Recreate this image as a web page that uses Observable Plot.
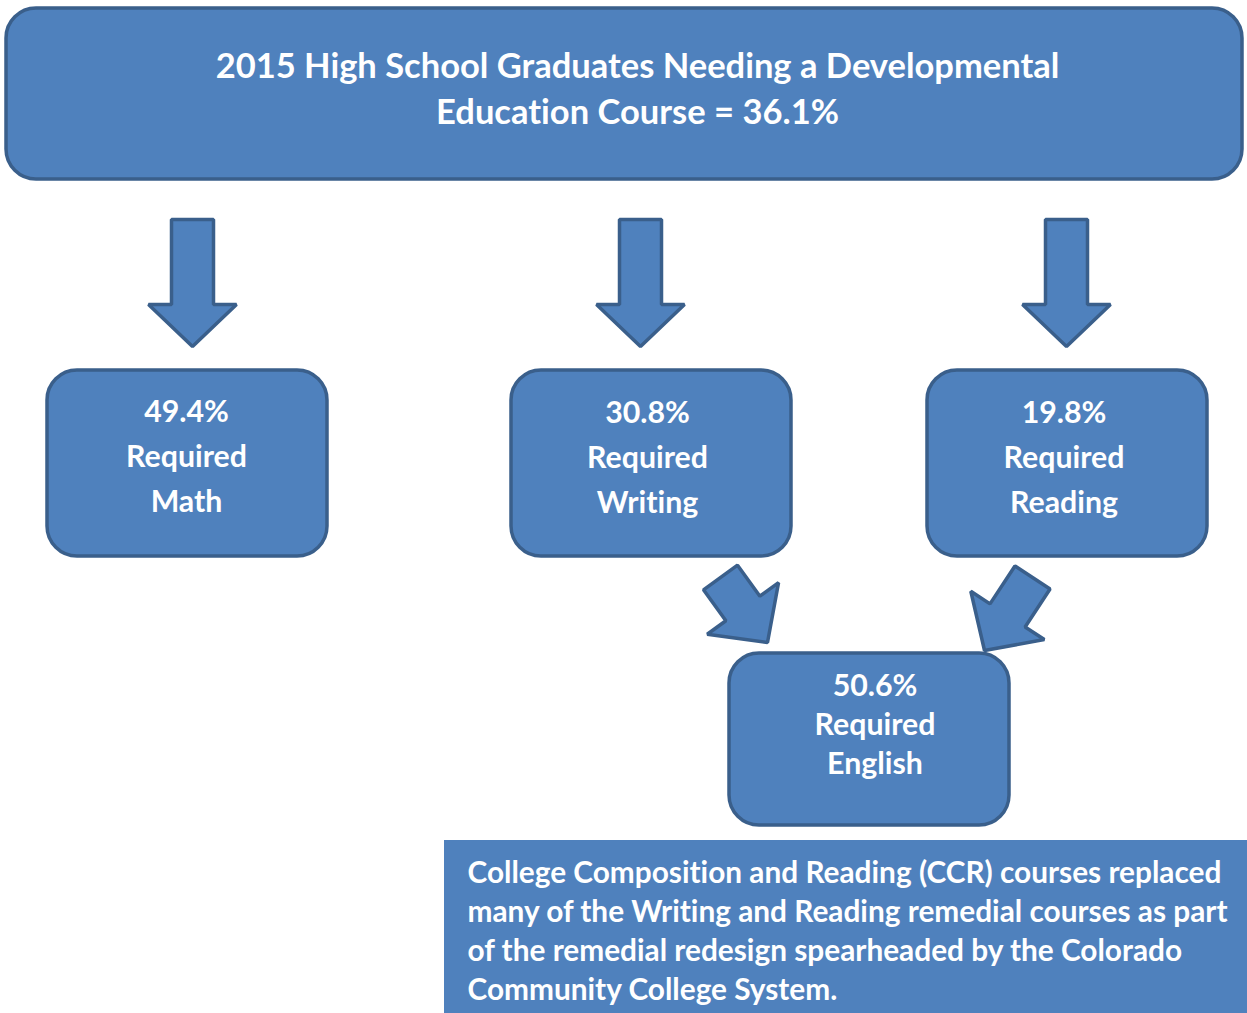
<!DOCTYPE html>
<html>
<head>
<meta charset="utf-8">
<script src="https://cdn.jsdelivr.net/npm/d3@7"></script>
<script src="https://cdn.jsdelivr.net/npm/@observablehq/plot@0.6"></script>
<style>
  html, body { margin: 0; padding: 0; background: #ffffff; }
  #chart svg { display: block; }
  #chart svg text { font-variant-ligatures: none; font-feature-settings: "liga" 0, "clig" 0; }
</style>
</head>
<body>
<div id="chart"></div>
<script>
// ---- content ----
const headline = ["2015 High School Graduates Needing a Developmental", "Education Course = 36.1%"];
const subjects = ["Math", "Writing", "Reading", "English"];
const shares = [49.4, 30.8, 19.8, 50.6];
const captionLines = [
  "College Composition and Reading (CCR) courses replaced",
  "many of the Writing and Reading remedial courses as part",
  "of the remedial redesign spearheaded by the Colorado",
  "Community College System."
];

// ---- layout (pixel canvas) ----
const W = 1247, H = 1013;
const FILL = "#4f81bd", EDGE = "#3a5f8b";
const FONT = "Lato, 'Open Sans', sans-serif";

const topBox = [{x1: 6, x2: 1242, y1: 8, y2: 179}];
const boxLayout = [
  {x1: 47, x2: 327, y1: 370, y2: 556, cx: 186, cy: 452},
  {x1: 511, x2: 791, y1: 370, y2: 556, cx: 647, cy: 453},
  {x1: 927, x2: 1207, y1: 370, y2: 556, cx: 1063.5, cy: 453},
  {x1: 729, x2: 1009, y1: 653, y2: 825, cx: 874.5, cy: 722}
];
const boxes = subjects.map((s, i) => ({
  ...boxLayout[i],
  label: `${shares[i].toFixed(1)}%\nRequired\n${s}`
}));
const captionBox = [{x1: 444, x2: 1247, y1: 840, y2: 1013}];

// arrows: tail point, tip point
const arrowLayout = [
  {id: "a1", tx: 192, ty: 219, hx: 192, hy: 346},
  {id: "a2", tx: 640, ty: 219, hx: 640, hy: 346},
  {id: "a3", tx: 1066, ty: 219, hx: 1066, hy: 346},
  {id: "a4", tx: 720, ty: 577, hx: 767, hy: 642},
  {id: "a5", tx: 1032, ty: 577, hx: 984, hy: 650}
];
const SHAFT = 42, HEAD = 88, HEADLEN = 42;
function arrowPolygon(a) {
  const dx = a.hx - a.tx, dy = a.hy - a.ty, L = Math.hypot(dx, dy);
  const ux = dx / L, uy = dy / L, px = -uy, py = ux;
  const bx = a.hx - ux * HEADLEN, by = a.hy - uy * HEADLEN;
  const s = SHAFT / 2, h = HEAD / 2;
  const pts = [
    [a.tx + px * s, a.ty + py * s],
    [bx + px * s, by + py * s],
    [bx + px * h, by + py * h],
    [a.hx, a.hy],
    [bx - px * h, by - py * h],
    [bx - px * s, by - py * s],
    [a.tx - px * s, a.ty - py * s]
  ];
  return pts.map(([x, y]) => ({id: a.id, x, y}));
}
const arrowPts = arrowLayout.flatMap(arrowPolygon);

const TF = 34.5, BF = 30.3, CF = 29.8;
const plot = Plot.plot({
  width: W,
  height: H,
  margin: 0,
  x: {domain: [0, W], range: [0, W], axis: null},
  y: {domain: [0, H], range: [0, H], axis: null},
  style: {background: "#ffffff"},
  marks: [
    Plot.rect(topBox, {x1: "x1", x2: "x2", y1: "y1", y2: "y2", rx: 30, fill: FILL, stroke: EDGE, strokeWidth: 3.5}),
    Plot.text([headline.join("\n")], {x: 637, y: 86, text: d => d, fill: "white", fontSize: TF, fontWeight: "bold", fontFamily: FONT, lineHeight: 46 / TF}),
    Plot.line(arrowPts, {x: "x", y: "y", z: "id", curve: "linear-closed", fill: FILL, stroke: EDGE, strokeWidth: 3.5, strokeLinejoin: "miter"}),
    Plot.rect(boxes, {x1: "x1", x2: "x2", y1: "y1", y2: "y2", rx: 30, fill: FILL, stroke: EDGE, strokeWidth: 3.5}),
    Plot.text(boxes.slice(0, 3), {x: "cx", y: "cy", text: "label", fill: "white", fontSize: BF, fontWeight: "bold", fontFamily: FONT, lineHeight: 45 / BF}),
    Plot.text(boxes.slice(3), {x: "cx", y: "cy", text: "label", fill: "white", fontSize: BF, fontWeight: "bold", fontFamily: FONT, lineHeight: 39 / BF}),
    Plot.rect(captionBox, {x1: "x1", x2: "x2", y1: "y1", y2: "y2", fill: FILL}),
    Plot.text([captionLines.join("\n")], {x: 467, y: 928.5, text: d => d, textAnchor: "start", fill: "white", fontSize: CF, fontWeight: "bold", fontFamily: FONT, lineHeight: 39 / CF})
  ]
});
document.getElementById("chart").appendChild(plot);
</script>
</body>
</html>
